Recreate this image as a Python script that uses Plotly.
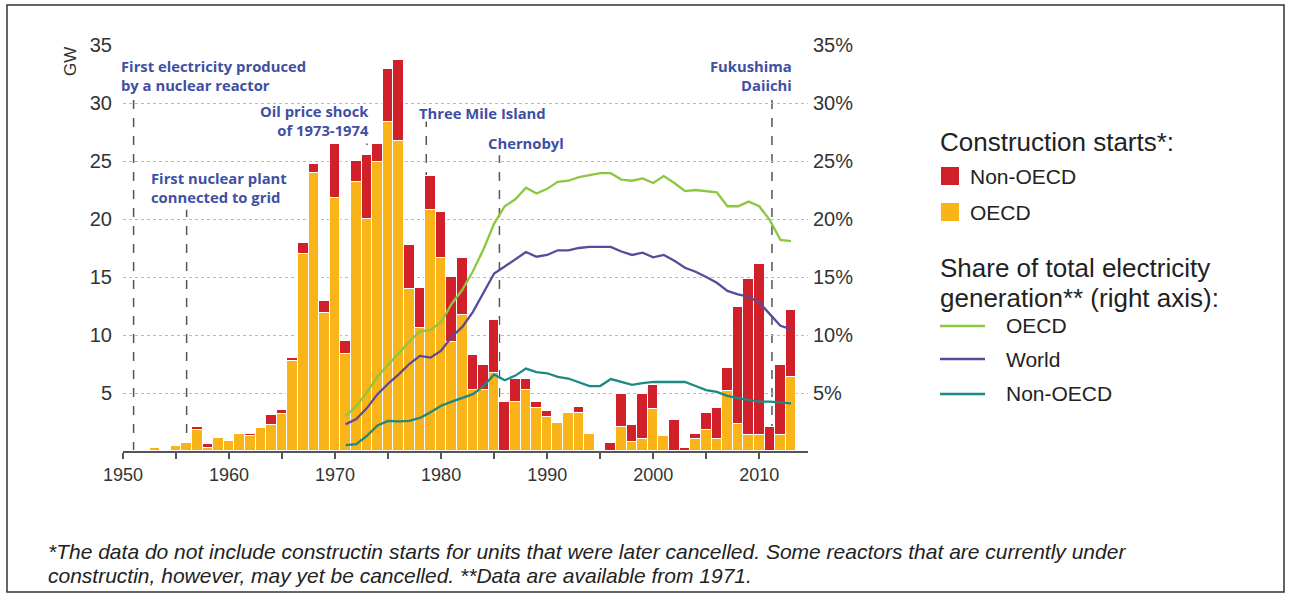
import plotly.graph_objects as go

# ---------------- data ----------------
years = list(range(1951, 2014))
oecd_gw = [0, 0, 0.25, 0, 0.4, 0.7, 1.8, 0.3, 1.1, 0.9,
           1.45, 1.3, 1.95, 2.2, 3.2, 7.75, 17.0, 24.0, 11.9, 21.8,
           8.4, 23.2, 20.0, 24.9, 28.4, 26.7, 14.0, 10.6, 20.8, 16.6,
           9.4, 11.7, 5.3, 5.25, 6.7, 0, 4.2, 5.25, 3.7, 2.95,
           2.45, 3.25, 3.3, 1.45, 0, 0, 2.05, 0.8, 1.0, 3.65,
           1.3, 0, 0, 1.0, 1.8, 1.0, 5.2, 2.3, 1.4, 1.4,
           0, 1.4, 6.35]
nonoecd_gw = [0, 0, 0, 0, 0, 0, 0.3, 0.3, 0, 0,
              0, 0.2, 0, 0.9, 0.3, 0.3, 0.9, 0.7, 1.0, 4.7,
              1.1, 1.8, 5.5, 1.6, 4.5, 7.0, 3.8, 3.45, 2.9, 4.0,
              5.6, 4.9, 2.95, 2.2, 4.6, 4.25, 2.0, 1.0, 0.55, 0.5,
              0, 0, 0.5, 0, 0, 0.65, 2.85, 1.45, 3.9, 2.0,
              0, 2.7, 0.3, 0.45, 1.45, 2.75, 1.95, 10.1, 13.4, 14.7,
              2.1, 6.0, 5.8]

share_years = list(range(1971, 2014))
oecd_share = [3.0, 3.85, 5.05, 6.4, 7.45, 8.4, 9.45, 10.3, 10.45, 11.1,
              12.7, 13.9, 15.5, 17.4, 19.6, 21.1, 21.7, 22.7, 22.2, 22.6,
              23.2, 23.3, 23.6, 23.8, 23.95, 23.95, 23.4, 23.3, 23.5, 23.1,
              23.7, 23.1, 22.4, 22.5, 22.4, 22.3, 21.1, 21.1, 21.5, 21.1,
              19.9, 18.2, 18.1]
world_share = [2.3, 2.75, 3.7, 4.9, 5.8, 6.6, 7.5, 8.2, 8.05, 8.65,
               9.85, 10.7, 12.0, 13.7, 15.3, 15.9, 16.5, 17.15, 16.75, 16.9,
               17.3, 17.3, 17.5, 17.6, 17.6, 17.6, 17.2, 16.9, 17.1, 16.7,
               16.9, 16.4, 15.8, 15.45, 15.0, 14.5, 13.8, 13.5, 13.3, 12.8,
               11.8, 10.8, 10.5]
nonoecd_share = [0.5, 0.6, 1.3, 2.2, 2.6, 2.55, 2.6, 2.85, 3.35, 3.9,
                 4.25, 4.55, 4.9, 5.6, 6.6, 6.1, 6.5, 7.1, 6.8, 6.7,
                 6.4, 6.25, 5.95, 5.6, 5.6, 6.2, 5.95, 5.7, 5.85, 5.95,
                 5.95, 5.95, 5.95, 5.6, 5.25, 5.1, 4.75, 4.55, 4.4, 4.25,
                 4.25, 4.15, 4.1]

x_tickvals = list(range(1950, 2015, 5))
x_ticktext = [str(v) if v % 10 == 0 else "" for v in x_tickvals]
y_tickvals = [5, 10, 15, 20, 25, 30, 35]
y_ticktext = [str(v) for v in y_tickvals]
y2_ticktext = [f"{v}%" for v in y_tickvals]

event_years = [1951, 1956, 1973, 1978.6, 1985.5, 2011.2]
event_tops = [30.3, 20.8, 26.5, 28.4, 25.5, 30.3]

# ---------------- styling ----------------
W, H = 1289, 593
ML, MR, MT, MB = 123, 481, 45, 142
PW, PH = W - ML - MR, H - MT - MB

YELLOW = "#F8B418"
RED = "#D2202A"
GREEN = "#8DC63F"
PURPLE = "#5B4A9C"
TEAL = "#1B8A86"
BLUE_TXT = "#3F4FA3"
GREY_TXT = "#333333"


def px(x):
    return (x - ML) / PW


def py(y):
    return (H - MB - y) / PH


fig = go.Figure()

fig.add_trace(go.Bar(x=years, y=oecd_gw, name="OECD", marker_color=YELLOW,
                     marker_line_color="white", marker_line_width=1,
                     showlegend=False, hoverinfo="x+y"))
fig.add_trace(go.Bar(x=years, y=nonoecd_gw, name="Non-OECD", marker_color=RED,
                     marker_line_color="white", marker_line_width=1,
                     showlegend=False, hoverinfo="x+y"))

for ys, col, nm in [(oecd_share, GREEN, "OECD"), (world_share, PURPLE, "World"),
                    (nonoecd_share, TEAL, "Non-OECD")]:
    fig.add_trace(go.Scatter(x=share_years, y=ys, mode="lines", name=nm,
                             line=dict(color=col, width=2.3), yaxis="y2",
                             showlegend=False))

shapes = []
for ex, et in zip(event_years, event_tops):
    shapes.append(dict(type="line", xref="x", yref="y", x0=ex, x1=ex, y0=0, y1=et,
                       line=dict(color="#555555", width=1.5, dash="dash"), layer="below"))

# frame
shapes.append(dict(type="rect", xref="paper", yref="paper",
                   x0=px(7), x1=px(1284), y0=py(592), y1=py(5),
                   line=dict(color="#333333", width=1.5)))

# legend swatches
shapes.append(dict(type="rect", xref="paper", yref="paper",
                   x0=px(941), x1=px(959), y0=py(185), y1=py(167),
                   fillcolor=RED, line=dict(width=0)))
shapes.append(dict(type="rect", xref="paper", yref="paper",
                   x0=px(941), x1=px(959), y0=py(221), y1=py(203),
                   fillcolor=YELLOW, line=dict(width=0)))
for yy, col in [(326, GREEN), (359, PURPLE), (394, TEAL)]:
    shapes.append(dict(type="line", xref="paper", yref="paper",
                       x0=px(940), x1=px(985), y0=py(yy), y1=py(yy),
                       line=dict(color=col, width=2.5)))

annotations = []


def ann(text, x, y, anchor="left", size=14, color=BLUE_TXT, family="Open Sans",
        bold=True, align=None, **kw):
    t = f"<b>{text}</b>" if bold else text
    d = dict(text=t, x=px(x), y=py(y), xref="paper", yref="paper",
             xanchor=anchor, yanchor="middle", showarrow=False,
             font=dict(size=size, color=color, family=family), **kw)
    if align:
        d["align"] = align
    annotations.append(d)


AF = 14.8
ann("First electricity produced<br>by a nuclear reactor", 119, 76, size=AF, align="left")
ann("Oil price shock<br>of 1973-1974", 371, 120, anchor="right", size=AF, align="right")
ann("First nuclear plant<br>connected to grid", 149, 187, size=AF, align="left")
ann("Three Mile Island", 417, 113, size=AF)
ann("Chernobyl", 486, 143, size=AF)
ann("Fukushima<br>Daiichi", 794, 76, anchor="right", size=AF, align="right")

# GW label
ann("GW", 70, 62, anchor="center", size=17, color=GREY_TXT, family="Liberation Sans",
    bold=False, textangle=-90)

# legend texts
LF = "Liberation Sans"
LC = "#222222"
ann("Construction starts*:", 938, 142, size=26, color=LC, family=LF, bold=False)
ann("Non-OECD", 968, 176, size=21, color=LC, family=LF, bold=False)
ann("OECD", 968, 212, size=21, color=LC, family=LF, bold=False)
ann("Share of total electricity", 938, 268, size=26, color=LC, family=LF, bold=False)
ann("generation** (right axis):", 938, 298, size=26, color=LC, family=LF, bold=False)
ann("OECD", 1004, 325, size=21, color=LC, family=LF, bold=False)
ann("World", 1004, 359, size=21, color=LC, family=LF, bold=False)
ann("Non-OECD", 1004, 393, size=21, color=LC, family=LF, bold=False)

# footnote
ann("<i>*The data do not include constructin starts for units that were later cancelled. "
    "Some reactors that are currently under</i>", 46, 551, size=21, color=LC,
    family=LF, bold=False)
ann("<i>constructin, however, may yet be cancelled. **Data are available from 1971.</i>",
    46, 575, size=21, color=LC, family=LF, bold=False)

fig.update_layout(
    width=W, height=H,
    margin=dict(l=ML, r=MR, t=MT, b=MB, pad=0),
    paper_bgcolor="white", plot_bgcolor="white",
    barmode="stack", bargap=0,
    shapes=shapes, annotations=annotations,
    xaxis=dict(range=[1950, 2014.6], tickvals=x_tickvals, ticktext=x_ticktext,
               ticks="outside", ticklen=6, tickwidth=2, tickcolor="#555555",
               showline=True, linecolor="#555555", linewidth=2,
               showgrid=False, zeroline=False,
               tickfont=dict(family="Liberation Sans", size=18, color=GREY_TXT)),
    yaxis=dict(range=[0, 35], tickvals=y_tickvals, ticktext=y_ticktext,
               showline=False, zeroline=False,
               showgrid=True, gridcolor="#BBBBBB", griddash="dot", gridwidth=1,
               ticklabelstandoff=10,
               tickfont=dict(family="Liberation Sans", size=20, color=GREY_TXT)),
    yaxis2=dict(range=[0, 35], tickvals=y_tickvals, ticktext=y2_ticktext,
                overlaying="y", side="right", showgrid=False, zeroline=False,
                showline=False, ticklabelstandoff=4,
                tickfont=dict(family="Liberation Sans", size=20, color=GREY_TXT)),
)

fig.write_html("out.html",
               config={"displayModeBar": False},
               post_script="document.body.style.margin='0px';"
                           "document.body.style.overflow='hidden';")
